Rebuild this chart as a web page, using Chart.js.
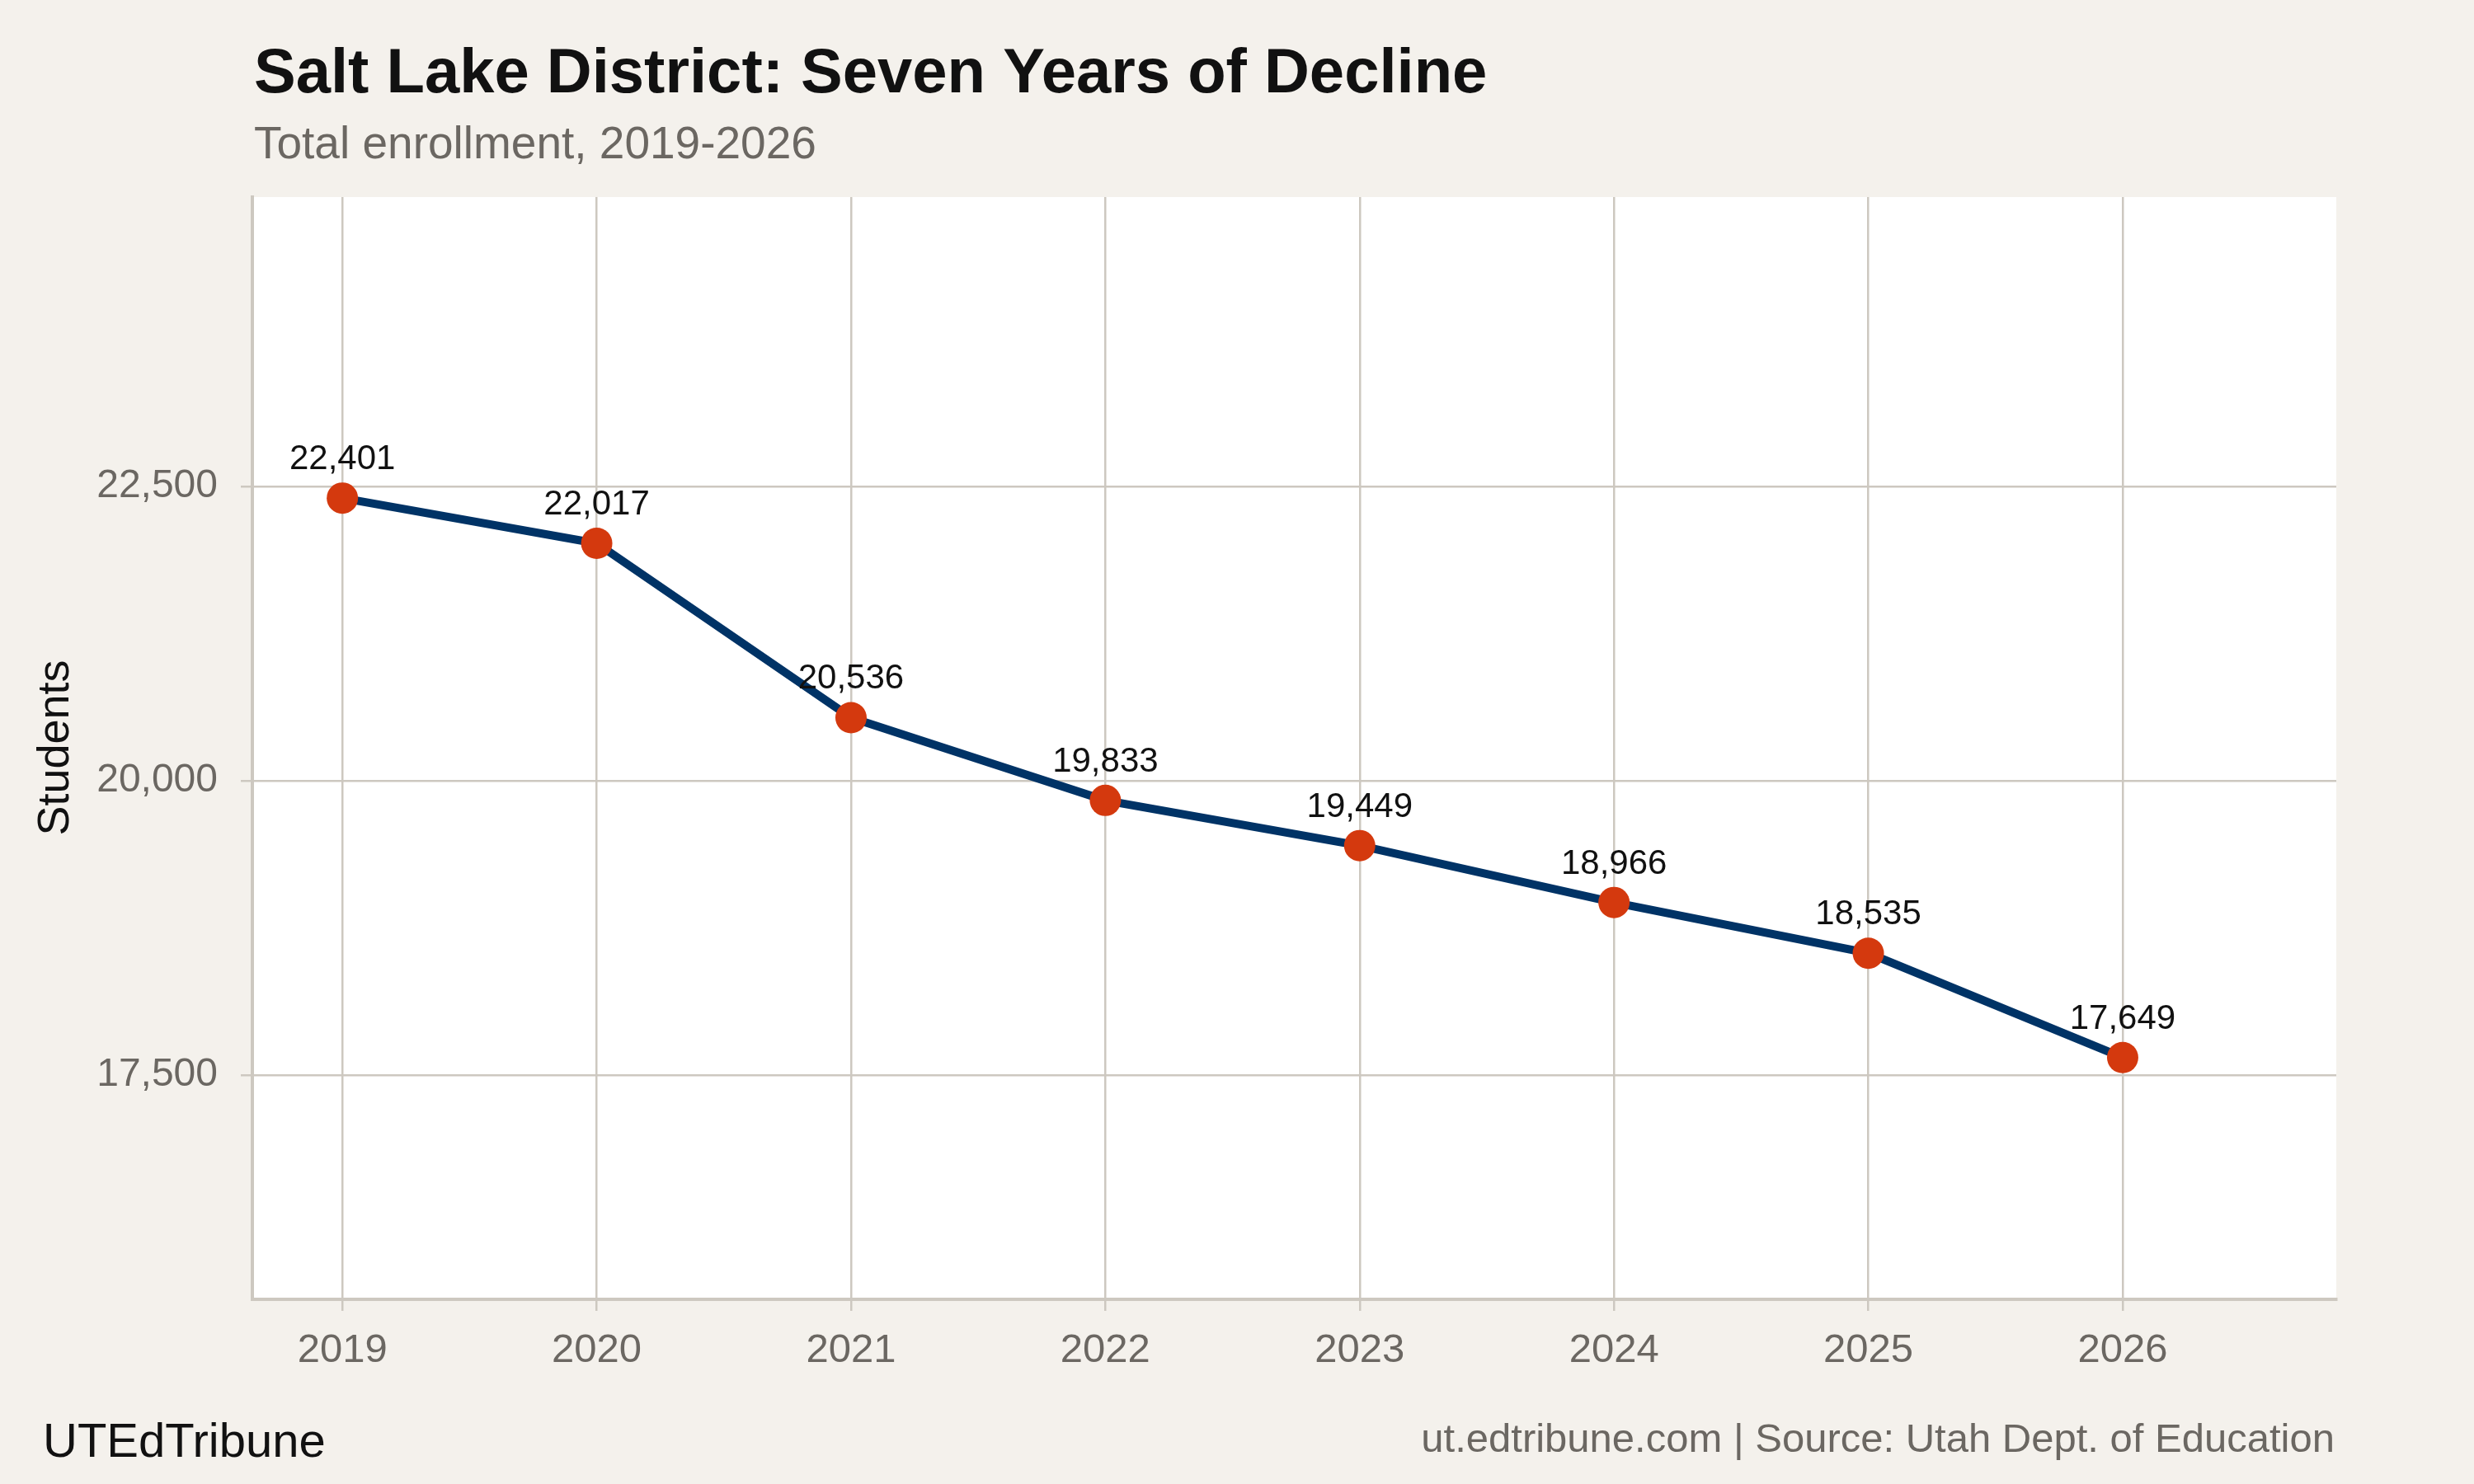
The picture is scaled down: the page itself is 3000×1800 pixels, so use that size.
<!DOCTYPE html>
<html>
<head>
<meta charset="utf-8">
<script src="https://cdn.jsdelivr.net/npm/chart.js@4.4.1/dist/chart.umd.min.js"></script>
<style>
  html, body { margin: 0; padding: 0; background: #f4f1ec; }
  #wrap { width: 3000px; height: 1800px; position: relative; }
</style>
</head>
<body>
<div id="wrap"><canvas id="chart" width="3000" height="1800"></canvas></div>
<script>
  // enrollment by school year
  var years = [2019, 2020, 2021, 2022, 2023, 2024, 2025, 2026];
  var students = [22401, 22017, 20536, 19833, 19449, 18966, 18535, 17649];
  var yTicks = [17500, 20000, 22500];

  var colors = {
    bg: '#f4f1ec',
    panel: '#ffffff',
    grid: '#cdc8c0',
    line: '#003366',
    point: '#d4390e',
    text: '#111111',
    muted: '#6b6762'
  };
  var FONT = "'Liberation Sans', Arial, Helvetica, sans-serif";

  function fmt(n) { return n.toLocaleString('en-US'); }

  // white plot panel behind the grid
  var panelBg = {
    id: 'panelBg',
    beforeDraw: function(chart) {
      var a = chart.chartArea, ctx = chart.ctx;
      ctx.save();
      ctx.fillStyle = colors.bg;
      ctx.fillRect(0, 0, chart.width, chart.height);
      ctx.fillStyle = colors.panel;
      ctx.fillRect(a.left, a.top, a.right - a.left, a.bottom - a.top);
      ctx.restore();
    }
  };

  // value labels above points + titles and footer
  var decorations = {
    id: 'decorations',
    afterDatasetsDraw: function(chart) {
      var ctx = chart.ctx;
      var meta = chart.getDatasetMeta(0);
      ctx.save();
      ctx.font = '42px ' + FONT;
      ctx.fillStyle = colors.text;
      ctx.textAlign = 'center';
      ctx.textBaseline = 'alphabetic';
      meta.data.forEach(function(pt, i) {
        ctx.fillText(fmt(students[i]), pt.x, pt.y - 35);
      });
      ctx.restore();
    },
    afterDraw: function(chart) {
      var ctx = chart.ctx;
      ctx.save();
      ctx.textBaseline = 'alphabetic';
      ctx.textAlign = 'left';
      ctx.fillStyle = colors.text;
      ctx.font = 'bold 76px ' + FONT;
      ctx.fillText('Salt Lake District: Seven Years of Decline', 308, 112);
      ctx.fillStyle = colors.muted;
      ctx.font = '55px ' + FONT;
      ctx.fillText('Total enrollment, 2019-2026', 308, 192);

      ctx.fillStyle = colors.text;
      ctx.font = '58px ' + FONT;
      ctx.fillText('UTEdTribune', 52, 1767);
      ctx.fillStyle = colors.muted;
      ctx.font = '49px ' + FONT;
      ctx.textAlign = 'right';
      ctx.fillText('ut.edtribune.com | Source: Utah Dept. of Education', 2831, 1761);

      // y axis title
      ctx.translate(68, 907);
      ctx.rotate(-Math.PI / 2);
      ctx.textAlign = 'center';
      ctx.textBaseline = 'middle';
      ctx.fillStyle = colors.text;
      ctx.font = '54px ' + FONT;
      ctx.fillText('Students', 0, 0);
      ctx.restore();
    }
  };

  var points = years.map(function(y, i) { return { x: y, y: students[i] }; });

  new Chart(document.getElementById('chart').getContext('2d'), {
    type: 'line',
    data: {
      datasets: [{
        data: points,
        borderColor: colors.line,
        borderWidth: 10,
        pointRadius: 19,
        pointBackgroundColor: colors.point,
        pointBorderWidth: 0,
        pointHoverRadius: 19,
        tension: 0,
        fill: false
      }]
    },
    options: {
      responsive: false,
      animation: false,
      devicePixelRatio: 1,
      layout: { padding: { left: 0, top: 239, right: 167, bottom: 0 } },
      plugins: {
        legend: { display: false },
        tooltip: { enabled: false }
      },
      scales: {
        x: {
          type: 'linear',
          min: 2018.646,
          max: 2026.84,
          afterBuildTicks: function(s) {
            s.ticks = years.map(function(v) { return { value: v }; });
          },
          afterFit: function(s) { s.height = 224; },
          grid: { color: colors.grid, lineWidth: 2.5, tickLength: 14 },
          border: { display: true, color: colors.grid, width: 4 },
          ticks: {
            color: colors.muted,
            font: { family: FONT, size: 49 },
            padding: 19,
            callback: function(v) { return String(v); }
          }
        },
        y: {
          type: 'linear',
          min: 15595,
          max: 24958,
          afterBuildTicks: function(s) {
            s.ticks = yTicks.map(function(v) { return { value: v }; });
          },
          afterFit: function(s) { s.width = 306; },
          grid: { color: colors.grid, lineWidth: 2.5, tickLength: 14 },
          border: { display: true, color: colors.grid, width: 4 },
          ticks: {
            color: colors.muted,
            font: { family: FONT, size: 48 },
            padding: 28,
            callback: function(v) { return fmt(v); }
          }
        }
      }
    },
    plugins: [panelBg, decorations]
  });
</script>
</body>
</html>
